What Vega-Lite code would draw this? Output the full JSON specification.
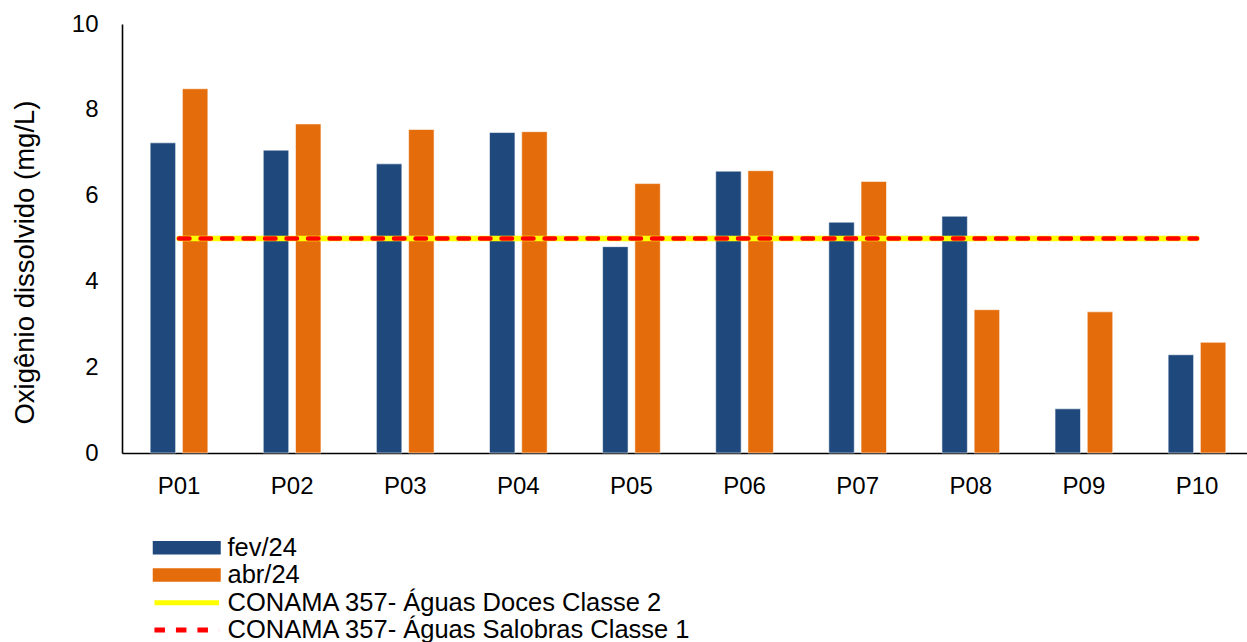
{
  "$schema": "https://vega.github.io/schema/vega-lite/v6.json",
  "width": 1125,
  "height": 429,
  "autosize": {"type": "none"},
  "padding": {"left": 122, "top": 24, "right": 0, "bottom": 189},
  "background": "white",
  "config": {
    "view": {"stroke": null},
    "font": "Liberation Sans",
    "axis": {"labelFont": "Liberation Sans", "titleFont": "Liberation Sans", "labelColor": "#000000", "titleColor": "#000000"}
  },
  "datasets": {
    "barras": [
      {"ponto": "P01", "serie": "fev/24", "od": 7.23},
      {"ponto": "P01", "serie": "abr/24", "od": 8.49},
      {"ponto": "P02", "serie": "fev/24", "od": 7.06},
      {"ponto": "P02", "serie": "abr/24", "od": 7.67},
      {"ponto": "P03", "serie": "fev/24", "od": 6.74},
      {"ponto": "P03", "serie": "abr/24", "od": 7.54},
      {"ponto": "P04", "serie": "fev/24", "od": 7.47},
      {"ponto": "P04", "serie": "abr/24", "od": 7.49},
      {"ponto": "P05", "serie": "fev/24", "od": 4.81},
      {"ponto": "P05", "serie": "abr/24", "od": 6.28},
      {"ponto": "P06", "serie": "fev/24", "od": 6.57},
      {"ponto": "P06", "serie": "abr/24", "od": 6.58},
      {"ponto": "P07", "serie": "fev/24", "od": 5.38},
      {"ponto": "P07", "serie": "abr/24", "od": 6.33},
      {"ponto": "P08", "serie": "fev/24", "od": 5.52},
      {"ponto": "P08", "serie": "abr/24", "od": 3.34},
      {"ponto": "P09", "serie": "fev/24", "od": 1.03},
      {"ponto": "P09", "serie": "abr/24", "od": 3.29},
      {"ponto": "P10", "serie": "fev/24", "od": 2.29},
      {"ponto": "P10", "serie": "abr/24", "od": 2.58}
    ],
    "limites": [
      {"ponto": "P01", "norma": "CONAMA 357- Águas Doces Classe 2", "od": 5},
      {"ponto": "P02", "norma": "CONAMA 357- Águas Doces Classe 2", "od": 5},
      {"ponto": "P03", "norma": "CONAMA 357- Águas Doces Classe 2", "od": 5},
      {"ponto": "P04", "norma": "CONAMA 357- Águas Doces Classe 2", "od": 5},
      {"ponto": "P05", "norma": "CONAMA 357- Águas Doces Classe 2", "od": 5},
      {"ponto": "P06", "norma": "CONAMA 357- Águas Doces Classe 2", "od": 5},
      {"ponto": "P07", "norma": "CONAMA 357- Águas Doces Classe 2", "od": 5},
      {"ponto": "P08", "norma": "CONAMA 357- Águas Doces Classe 2", "od": 5},
      {"ponto": "P09", "norma": "CONAMA 357- Águas Doces Classe 2", "od": 5},
      {"ponto": "P10", "norma": "CONAMA 357- Águas Doces Classe 2", "od": 5},
      {"ponto": "P01", "norma": "CONAMA 357- Águas Salobras Classe 1", "od": 5},
      {"ponto": "P02", "norma": "CONAMA 357- Águas Salobras Classe 1", "od": 5},
      {"ponto": "P03", "norma": "CONAMA 357- Águas Salobras Classe 1", "od": 5},
      {"ponto": "P04", "norma": "CONAMA 357- Águas Salobras Classe 1", "od": 5},
      {"ponto": "P05", "norma": "CONAMA 357- Águas Salobras Classe 1", "od": 5},
      {"ponto": "P06", "norma": "CONAMA 357- Águas Salobras Classe 1", "od": 5},
      {"ponto": "P07", "norma": "CONAMA 357- Águas Salobras Classe 1", "od": 5},
      {"ponto": "P08", "norma": "CONAMA 357- Águas Salobras Classe 1", "od": 5},
      {"ponto": "P09", "norma": "CONAMA 357- Águas Salobras Classe 1", "od": 5},
      {"ponto": "P10", "norma": "CONAMA 357- Águas Salobras Classe 1", "od": 5}
    ]
  },
  "layer": [
    {
      "data": {"name": "barras"},
      "mark": {"type": "bar", "stroke": "white", "strokeWidth": 0.8, "strokeOpacity": 0.7},
      "encoding": {
        "x": {
          "field": "ponto", "type": "nominal",
          "scale": {"range": [0, 1132], "paddingInner": 0.49, "paddingOuter": 0.249},
          "axis": {"title": null, "labelAngle": 0, "labelFontSize": 24, "labelPadding": 21, "ticks": false, "tickSize": 0, "domainColor": "#000000", "domainWidth": 1.6, "grid": false}
        },
        "xOffset": {"field": "serie", "type": "nominal", "sort": ["fev/24", "abr/24"], "scale": {"paddingInner": 0.21, "paddingOuter": 0}},
        "y": {
          "field": "od", "type": "quantitative",
          "scale": {"domain": [0, 10], "nice": false, "zero": true},
          "axis": {
            "title": "Oxigênio dissolvido (mg/L)", "titleFontSize": 27.5, "titleFontWeight": "normal",
            "titleX": -97, "titleY": 238, "titleAngle": -90, "titleAlign": "center", "titleBaseline": "middle",
            "values": [0, 2, 4, 6, 8, 10], "labelFontSize": 24, "labelPadding": 24,
            "ticks": false, "tickSize": 0, "grid": false, "domainColor": "#000000", "domainWidth": 1.6
          }
        },
        "fill": {
          "field": "serie", "type": "nominal",
          "scale": {"domain": ["fev/24", "abr/24"], "range": ["#1F497D", "#E46C0A"]},
          "legend": {
            "title": null, "orient": "none", "legendX": 52, "legendY": 511, "direction": "vertical",
            "padding": 0, "rowPadding": 0.2, "labelOffset": 28, "labelLimit": 0,
            "labelFont": "Liberation Sans", "labelFontSize": 25.5, "labelColor": "#000000",
            "symbolType": "M-5,-1H5V1H-5Z", "symbolSize": 185, "symbolStrokeWidth": 0, "symbolOpacity": 1
          }
        }
      }
    },
    {
      "data": {"name": "limites"},
      "transform": [{"filter": "datum.norma === 'CONAMA 357- Águas Doces Classe 2'"}],
      "mark": {"type": "line", "strokeWidth": 5.5, "strokeCap": "round"},
      "encoding": {
        "x": {"field": "ponto", "type": "nominal"},
        "y": {"field": "od", "type": "quantitative"},
        "stroke": {
          "field": "norma", "type": "nominal",
          "scale": {"domain": ["CONAMA 357- Águas Doces Classe 2", "CONAMA 357- Águas Salobras Classe 1"], "range": ["#FFFF00", "#FF0000"]},
          "legend": {
            "title": null, "orient": "none", "legendX": 52, "legendY": 566, "direction": "vertical",
            "padding": 0, "rowPadding": 0.2, "labelOffset": 28, "labelLimit": 0,
            "labelFont": "Liberation Sans", "labelFontSize": 25.5, "labelColor": "#000000",
            "symbolType": "M-4.75,0H4.75", "symbolSize": 185, "symbolStrokeWidth": 5, "symbolOpacity": 1
          }
        },
        "strokeDash": {
          "field": "norma", "type": "nominal",
          "scale": {"domain": ["CONAMA 357- Águas Doces Classe 2", "CONAMA 357- Águas Salobras Classe 1"], "range": [[1, 0], [10.5, 11]]},
          "legend": {
            "title": null, "orient": "none", "legendX": 52, "legendY": 566, "direction": "vertical",
            "padding": 0, "rowPadding": 0.2, "labelOffset": 28, "labelLimit": 0,
            "labelFont": "Liberation Sans", "labelFontSize": 25.5, "labelColor": "#000000",
            "symbolType": "M-4.75,0H4.75", "symbolSize": 185, "symbolStrokeWidth": 5, "symbolOpacity": 1
          }
        }
      }
    },
    {
      "data": {"name": "limites"},
      "transform": [{"filter": "datum.norma === 'CONAMA 357- Águas Salobras Classe 1'"}],
      "mark": {"type": "line", "strokeWidth": 4.5, "strokeCap": "round"},
      "encoding": {
        "x": {"field": "ponto", "type": "nominal"},
        "y": {"field": "od", "type": "quantitative"},
        "stroke": {"field": "norma", "type": "nominal"},
        "strokeDash": {"field": "norma", "type": "nominal"}
      }
    }
  ]
}
